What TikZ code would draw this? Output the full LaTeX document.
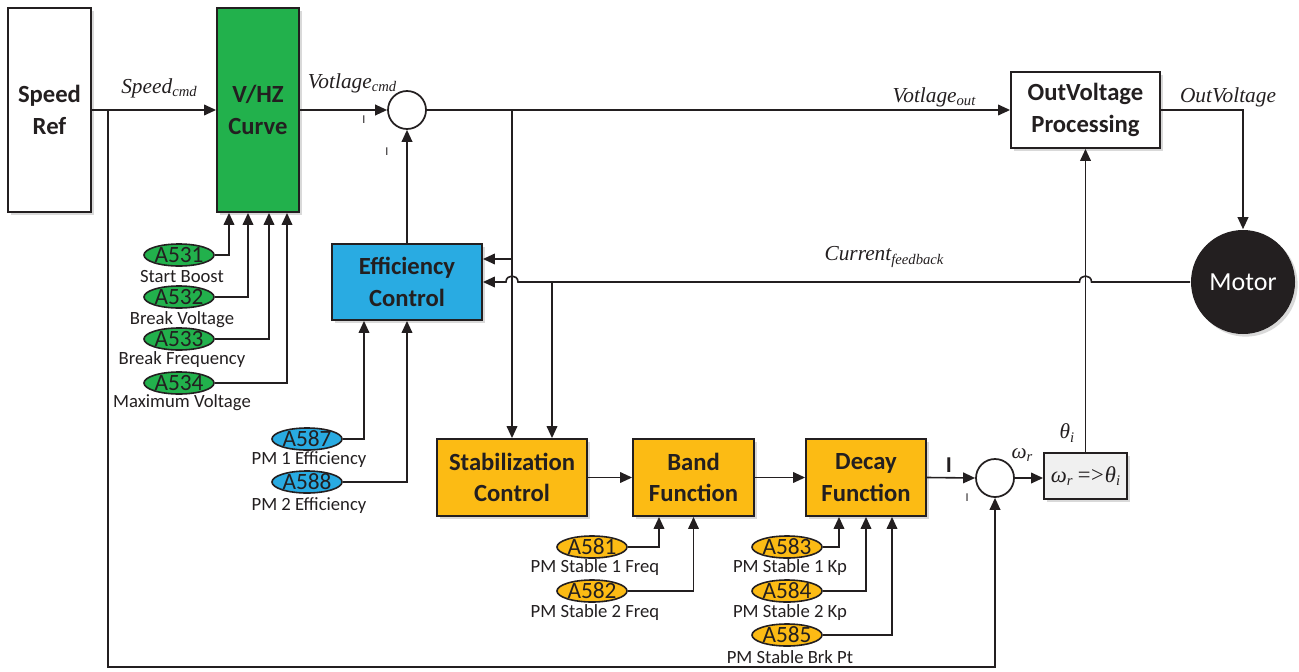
\documentclass[tikz,border=0pt]{standalone}
\usepackage{fontspec}
\setmainfont{Carlito}
\newfontfamily\tms{Liberation Serif}
\usetikzlibrary{arrows.meta,shapes.geometric,shadows,calc}
\definecolor{vgreen}{RGB}{34,177,76}
\definecolor{eblue}{RGB}{41,171,226}
\definecolor{syellow}{RGB}{252,187,20}
\definecolor{mblack}{RGB}{35,31,32}
\definecolor{ink}{RGB}{35,31,32}
\newcommand\mysub[1]{\raisebox{-0.35ex}{\fontsize{11}{11}\selectfont #1}}
\begin{document}
\begin{tikzpicture}[x=0.75pt,y=-0.75pt,
  line width=1.2pt, color=ink,
  arr/.style={-{Triangle[length=9pt,width=8pt]}},
  blk/.style={draw=ink,line width=1.4pt,inner sep=0pt,align=center,
     font=\bfseries\fontsize{18.5}{23.5}\selectfont,
     drop shadow={shadow xshift=2pt,shadow yshift=-2pt,opacity=0.3}},
  sumc/.style={circle,draw=ink,line width=1.3pt,fill=white,minimum size=28.5pt,inner sep=0pt},
  par/.style={ellipse,draw=ink,line width=1.2pt,inner sep=-1pt,minimum width=52.5pt,minimum height=16.5pt,font=\fontsize{17.5}{17.5}\selectfont},
  sub/.style={font=\fontsize{14}{14}\selectfont,inner sep=0pt},
  sig/.style={font=\tms\itshape\fontsize{16}{16}\selectfont,inner sep=0pt},
  tick/.style={font=\fontsize{9}{9}\selectfont,inner sep=0pt}
]
\path[use as bounding box] (0,0) rectangle (1299,671);

% main blocks
\node[blk,fill=white,minimum width=62.25pt,minimum height=153pt] (sref) at (49.5,110) {Speed\\Ref};
\node[blk,fill=vgreen,minimum width=61.5pt,minimum height=153pt] (vhz) at (258,110) {V/HZ\\Curve};
\node[sumc] (s1) at (407,110) {};
\node[blk,fill=eblue,minimum width=112.5pt,minimum height=57pt] (eff) at (407,282) {Efficiency\\Control};
\node[blk,fill=white,minimum width=111.75pt,minimum height=57pt] (outv) at (1085.5,110) {OutVoltage\\Processing};
\node[circle,fill=mblack,minimum size=78pt,inner sep=0pt,text=white,font=\fontsize{19.5}{20}\selectfont,
  drop shadow={shadow xshift=2pt,shadow yshift=-2pt,opacity=0.3}] (motor) at (1243,282) {Motor};
\node[blk,fill=syellow,minimum width=112.5pt,minimum height=57.75pt] (stab) at (512,477.5) {Stabilization\\Control};
\node[blk,fill=syellow,minimum width=90.75pt,minimum height=57.75pt] (band) at (693.5,477.5) {Band\\Function};
\node[blk,fill=syellow,minimum width=90pt,minimum height=57.75pt] (decay) at (866,477.5) {Decay\\Function};
\node[sumc] (s2) at (995,478) {};
\node[blk,fill=gray!12,minimum width=62.25pt,minimum height=34.5pt,font=\tms\itshape\fontsize{17}{17}\selectfont] (conv) at (1085.5,476) {ω\mysub{r}\,{=}\kern-1.5pt{>}θ\mysub{i}};

% signal labels
\node[sig] (lspd) at (159,88) {Speed\mysub{cmd}};
\node[sig] (lvc) at (352,83) {Votlage\mysub{cmd}};
\node[sig] (lvo) at (934,97) {Votlage\mysub{out}};
\node[sig] (lov) at (1228,97) {OutVoltage};
\node[sig] (lcf) at (884,257) {Current\mysub{feedback}};
\node[sig] (lw) at (1022,455) {ω\mysub{r}};
\node[sig] (lth) at (1067,433) {θ\mysub{i}};
\node[tick] (t1) at (364,120) {I};
\node[tick] (t2) at (387,152) {I};
\node[inner sep=0pt,font=\bfseries\fontsize{17}{17}\selectfont] (t3) at (949,465) {I};
\node[tick] (t4) at (967,498) {I};

% main connectors
\draw[arr] (sref.east) -- (vhz.west);
\coordinate (brS) at (108,110);
\coordinate (botR) at (995,667);
\draw[arr] (brS) -- (brS |- botR) -- (botR) -- (s2.south);
\draw[arr] (vhz.east) -- (s1.west);
\draw[arr] (eff.north) -- (s1.south);
\draw[arr] (s1.east) -- (outv.west);
\coordinate (brV) at (stab.north |- s1.east);
\draw[arr] (brV) -- (stab.north);
\coordinate (brE) at (512,259);
\draw[arr] (brE) -- (eff.east |- brE);
\draw[arr] (outv.east) -| (motor.north);
\coordinate (hA) at (stab.north |- motor.west);
\coordinate (hB) at (outv.south |- motor.west);
\draw[arr] (motor.west) -- ($(hB)+(6,0)$) .. controls ($(hB)+(6,-8)$) and ($(hB)+(-6,-8)$) .. ($(hB)+(-6,0)$)
   -- ($(hA)+(6,0)$) .. controls ($(hA)+(6,-8)$) and ($(hA)+(-6,-8)$) .. ($(hA)+(-6,0)$) -- (eff.east);
\coordinate (brF) at (552,282);
\draw[arr] (brF) -- (brF |- stab.north);
\draw[arr] (conv.north) -- (outv.south);
\draw[arr] (stab.east) -- (band.west);
\draw[arr] (band.east) -- (decay.west);
\draw[arr] (decay.east) -- (s2.west);
\draw[arr] (s2.east) -- (s2.east -| conv.west);

% V/HZ parameters
\node[par,fill=vgreen] (p531) at (179,255) {A531};
\node[sub] (l531) at (182,277) {Start Boost};
\node[par,fill=vgreen] (p532) at (179,297) {A532};
\node[sub] (l532) at (182,320) {Break Voltage};
\node[par,fill=vgreen] (p533) at (179,339) {A533};
\node[sub] (l533) at (182,360) {Break Frequency};
\node[par,fill=vgreen] (p534) at (179,383) {A534};
\node[sub] (l534) at (182,403) {Maximum Voltage};
\coordinate (v1) at ($(vhz.south)+(-29,0)$);
\coordinate (v2) at ($(vhz.south)+(-10,0)$);
\coordinate (v3) at ($(vhz.south)+(11,0)$);
\coordinate (v4) at ($(vhz.south)+(29,0)$);
\draw[arr] (p531.east) -| (v1);
\draw[arr] (p532.east) -| (v2);
\draw[arr] (p533.east) -| (v3);
\draw[arr] (p534.east) -| (v4);

% efficiency parameters
\node[par,fill=eblue] (p587) at (307,439) {A587};
\node[sub] (l587) at (309,460) {PM 1 Efficiency};
\node[par,fill=eblue] (p588) at (307,482) {A588};
\node[sub] (l588) at (309,506) {PM 2 Efficiency};
\coordinate (e1) at ($(eff.south)+(-43,0)$);
\draw[arr] (p587.east) -| (e1);
\draw[arr] (p588.east) -| (eff.south);

% band parameters
\node[par,fill=syellow] (p581) at (592,547) {A581};
\node[sub] (l581) at (595,568) {PM Stable 1 Freq};
\node[par,fill=syellow] (p582) at (592,591) {A582};
\node[sub] (l582) at (595,613) {PM Stable 2 Freq};
\coordinate (b1) at ($(band.south)+(-34.5,0)$);
\draw[arr] (p581.east) -| (b1);
\draw[arr] (p582.east) -| (band.south);

% decay parameters
\node[par,fill=syellow] (p583) at (787,547) {A583};
\node[sub] (l583) at (790,568) {PM Stable 1 Kp};
\node[par,fill=syellow] (p584) at (787,591) {A584};
\node[sub] (l584) at (790,613) {PM Stable 2 Kp};
\node[par,fill=syellow] (p585) at (787,635) {A585};
\node[sub] (l585) at (790,657) {PM Stable Brk Pt};
\coordinate (d1) at ($(decay.south)+(-27,0)$);
\coordinate (d3) at ($(decay.south)+(26,0)$);
\draw[arr] (p583.east) -| (d1);
\draw[arr] (p584.east) -| (decay.south);
\draw[arr] (p585.east) -| (d3);
\end{tikzpicture}
\end{document}
